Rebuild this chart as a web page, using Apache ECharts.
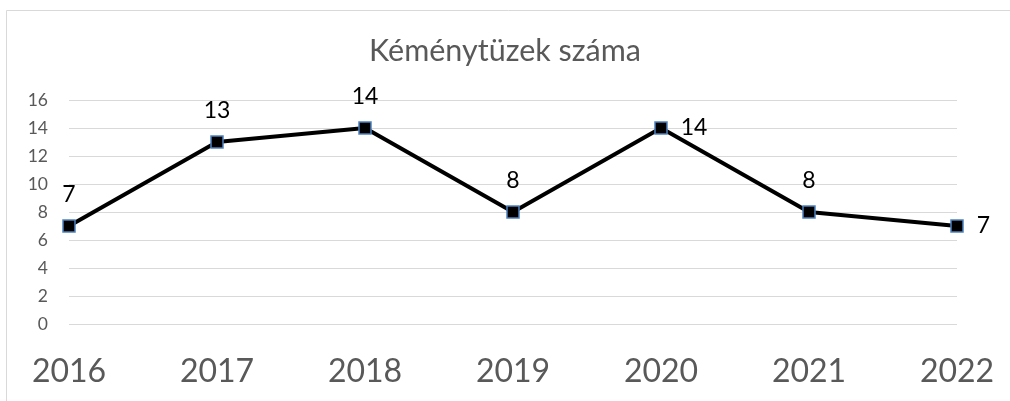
<!DOCTYPE html>
<html>
<head>
<meta charset="utf-8">
<script src="https://cdn.jsdelivr.net/npm/echarts@6/dist/echarts.min.js"></script>
<style>
html, body { margin: 0; padding: 0; background: #fff; }
#chart { width: 1010px; height: 401px; }
</style>
</head>
<body>
<div id="chart"></div>
<script>
var title = 'Kéménytüzek száma';
var years = ['2016', '2017', '2018', '2019', '2020', '2021', '2022'];
var counts = [7, 13, 14, 8, 14, 8, 7];
// label side for each point, as in the original
var labelPos = ['top', 'top', 'top', 'top', 'right', 'top', 'right'];

var chart = echarts.init(document.getElementById('chart'));

var option = {
  backgroundColor: '#fff',
  animation: false,
  title: {
    text: title,
    left: 'center',
    top: 31,
    textStyle: { fontFamily: 'Lato', fontSize: 30.5, fontWeight: 'normal', color: '#595959' }
  },
  graphic: [{
    type: 'rect',
    shape: { x: 6.5, y: 10.5, width: 1010, height: 420 },
    style: { fill: 'none', stroke: '#d9d9d9', lineWidth: 1 },
    silent: true
  }],
  grid: { left: 69, right: 53, top: 100, bottom: 77 },
  xAxis: {
    type: 'category',
    data: years,
    boundaryGap: false,
    axisLine: { show: false },
    axisTick: { show: false },
    axisLabel: { fontFamily: 'Lato', fontSize: 32, color: '#595959', margin: 32 }
  },
  yAxis: {
    type: 'value',
    min: 0, max: 16, interval: 2,
    axisLine: { show: false },
    axisTick: { show: false },
    axisLabel: { fontFamily: 'Lato', fontSize: 17.5, color: '#595959', margin: 21 },
    splitLine: { lineStyle: { color: '#d9d9d9', width: 1 } }
  },
  series: [{
    type: 'line',
    data: counts.map(function (v, i) {
      return { value: v, label: { position: labelPos[i] } };
    }),
    symbol: 'rect',
    symbolSize: 12,
    lineStyle: { color: '#000', width: 4 },
    itemStyle: { color: '#000', borderColor: '#4f81bd', borderWidth: 1.5 },
    label: {
      show: true,
      fontFamily: 'Lato',
      fontSize: 23,
      color: '#000',
      distance: 13
    }
  }]
};

chart.setOption(option);
</script>
</body>
</html>
